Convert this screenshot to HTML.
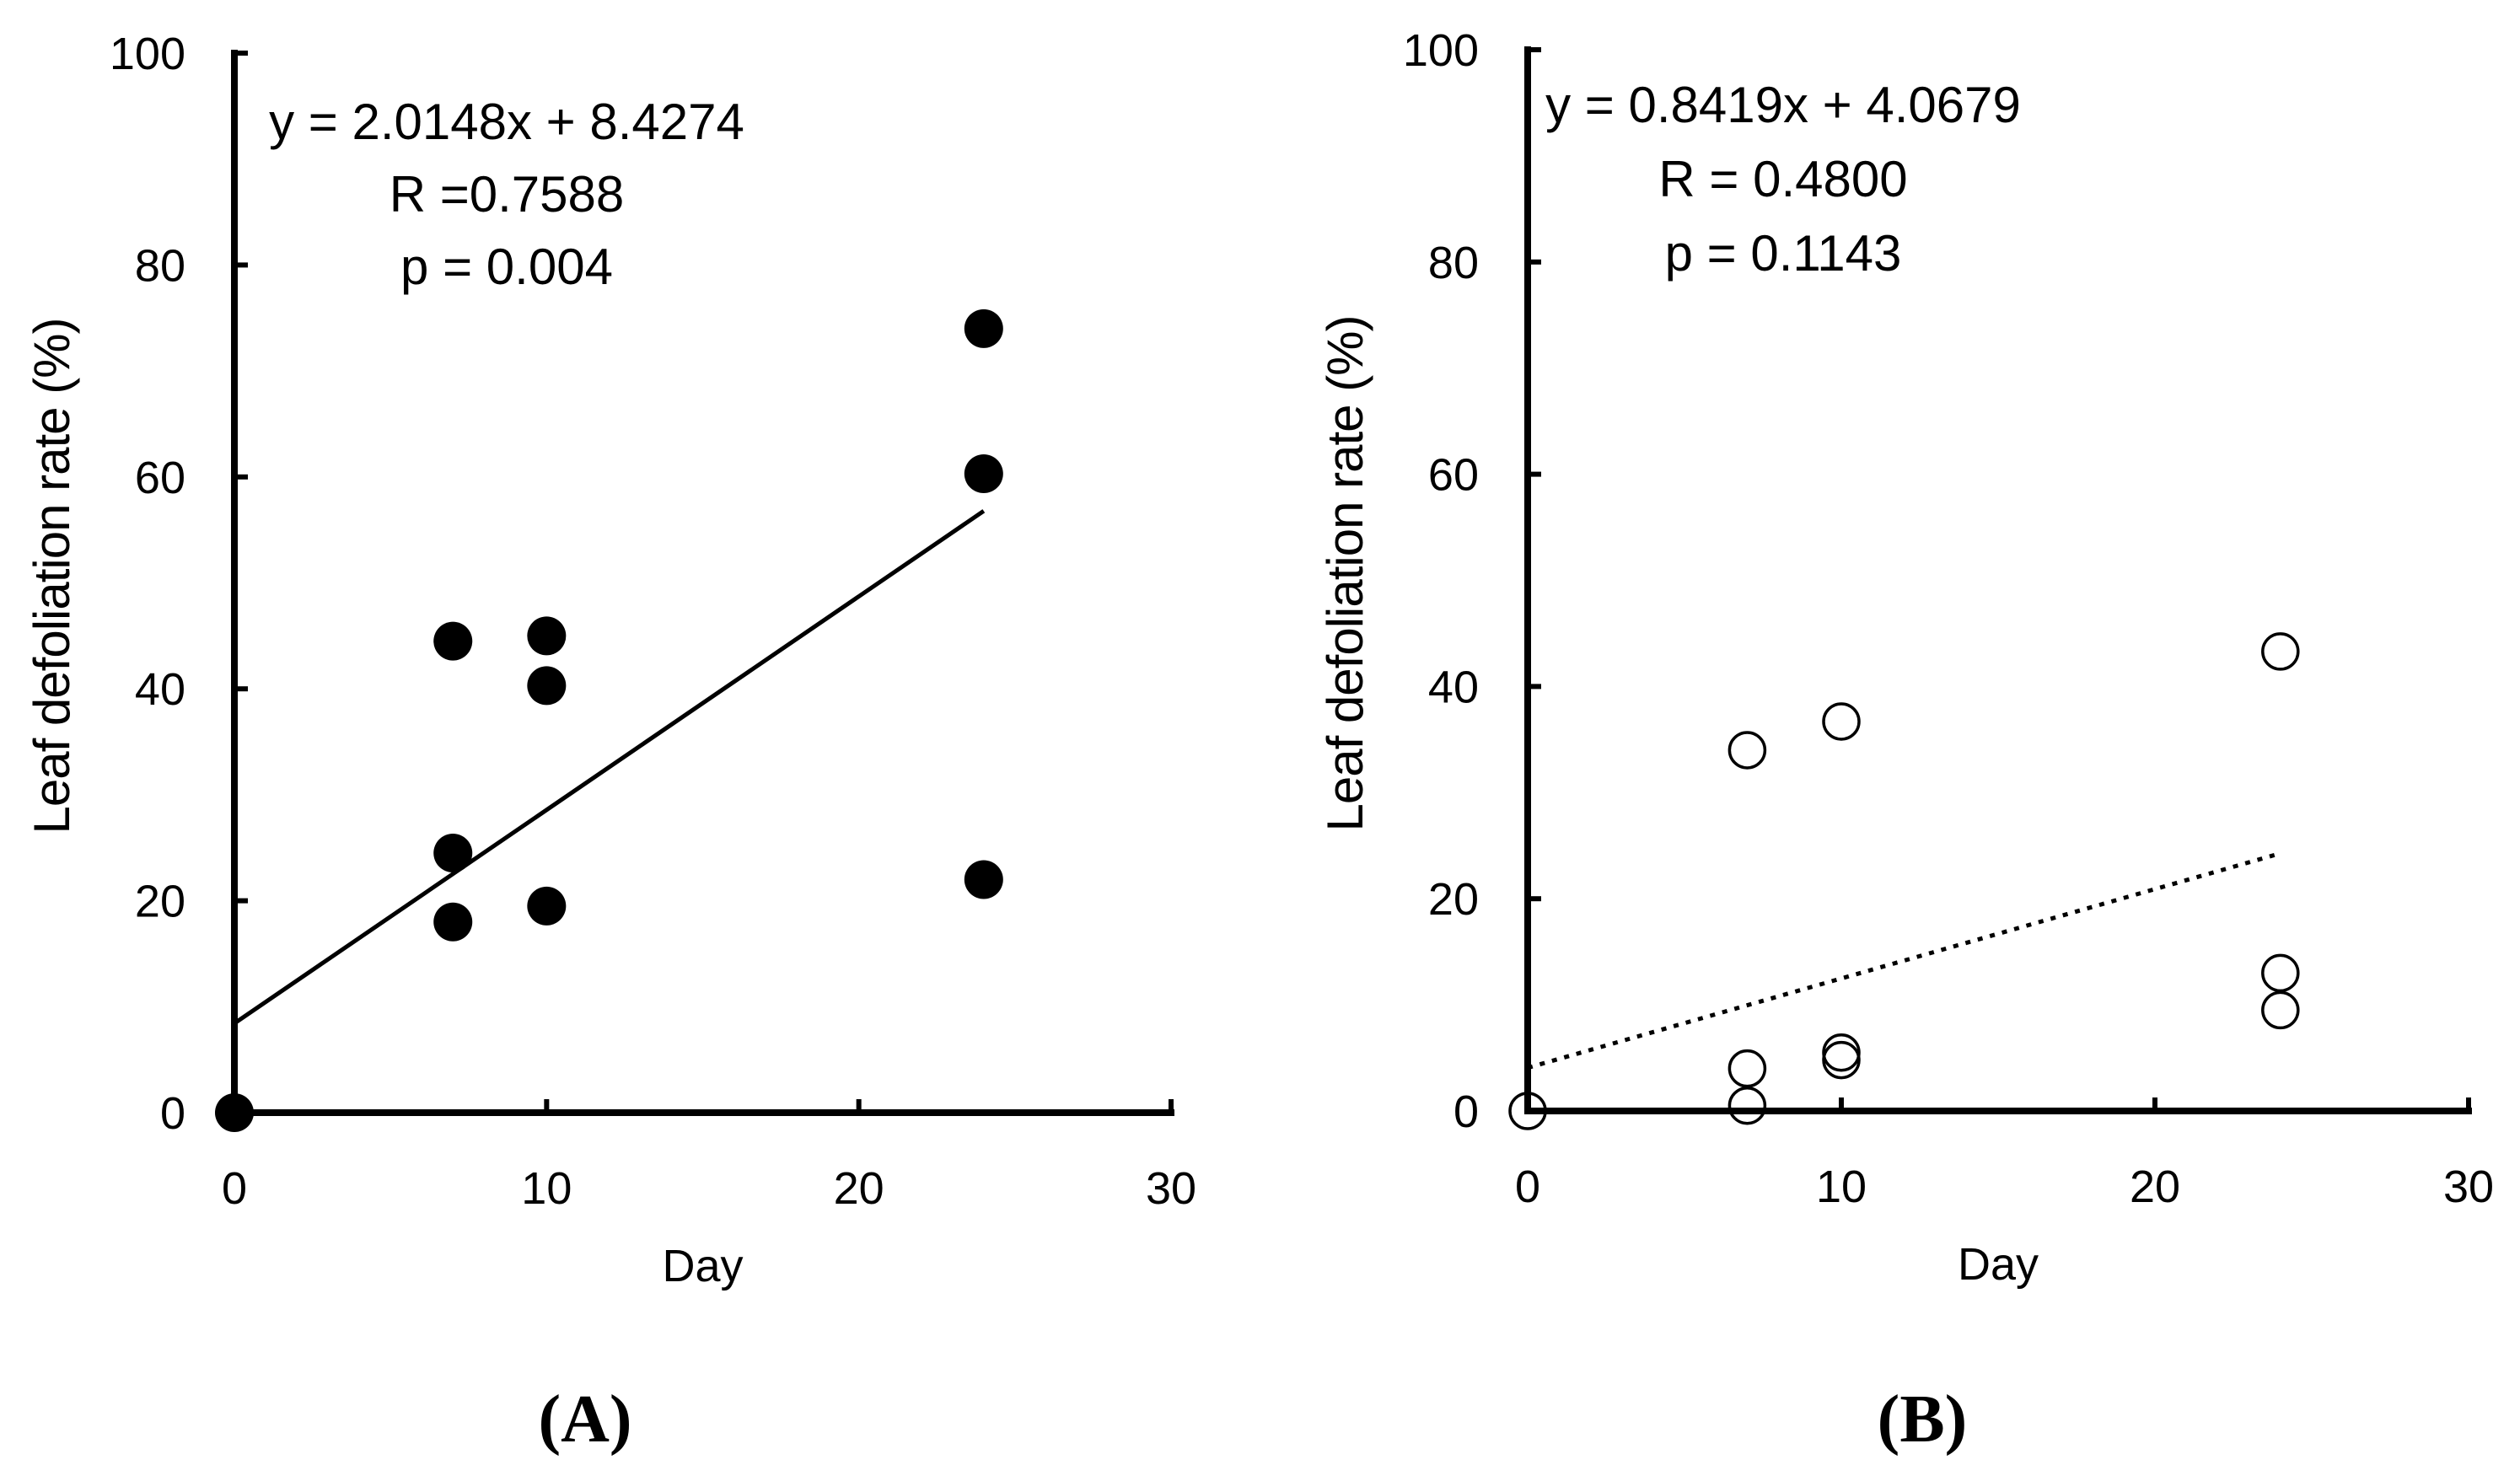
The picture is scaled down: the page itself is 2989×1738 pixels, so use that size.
<!DOCTYPE html>
<html><head><meta charset="utf-8"><style>
body{margin:0;background:#fff}
svg{display:block}
text{font-family:"Liberation Sans",sans-serif;fill:#000}
</style></head><body>
<svg id="chart" width="2989" height="1738" viewBox="0 0 2989 1738"></svg>
<script>
const xTicks=[0,10,20,30];
const yTicks=[0,20,40,60,80,100];
const daysA=[0,7,7,7,10,10,10,24,24,24];
const valsA=[0,44.5,24.5,18,45,40.3,19.5,74,60.3,22];
const daysB=[0,7,7,7,10,10,10,24,24,24];
const valsB=[0,34,4,0.5,36.7,5.5,4.8,43.3,13,9.5];
const slopeA=2.0148, interceptA=8.4274;
const slopeB=0.8419, interceptB=4.0679;
const annA=["y = 2.0148x + 8.4274","R =0.7588","p = 0.004"];
const annB=["y = 0.8419x + 4.0679","R = 0.4800","p = 0.1143"];
const NS="http://www.w3.org/2000/svg";
const svg=document.getElementById('chart');
function mk(tag,attrs,parent){const e=document.createElementNS(NS,tag);for(const k in attrs)e.setAttribute(k,attrs[k]);(parent||svg).appendChild(e);return e;}
function panel(cfg){
  const g=mk('g',{});
  
  
  const sx=v=>cfg.x0+(cfg.x30-cfg.x0)*v/30;
  const sy=v=>cfg.y0+(cfg.y100-cfg.y0)*v/100;
  const ax=mk('line',{x1:sx(0),y1:sy(100)-4,x2:sx(0),y2:sy(0)+4,stroke:'#000','stroke-width':8},g);
  
  const bx=mk('line',{x1:sx(0)-4,y1:sy(0),x2:sx(30)+4,y2:sy(0),stroke:'#000','stroke-width':8},g);
  
  yTicks.forEach(t=>{
    const l=mk('line',{x1:sx(0),y1:sy(t),x2:sx(0)+16,y2:sy(t),stroke:'#000','stroke-width':6},g);
    
    const tx=mk('text',{x:sx(0)-58,y:sy(t)+19,'text-anchor':'end','font-size':54},g);
    tx.textContent=t;
    
  });
  xTicks.forEach(t=>{
    const l=mk('line',{x1:sx(t),y1:sy(0),x2:sx(t),y2:sy(0)-16,stroke:'#000','stroke-width':6},g);
    
    const tx=mk('text',{x:sx(t),y:sy(0)+108,'text-anchor':'middle','font-size':54},g);
    tx.textContent=t;
    
  });
  const xt=mk('text',{x:(sx(0)+sx(30))/2,y:sy(0)+200,'text-anchor':'middle','font-size':54},g);
  xt.textContent='Day';
  
  const yt=mk('text',{x:0,y:0,'text-anchor':'middle','font-size':60,'letter-spacing':'-1',transform:`translate(${sx(0)-196},${sy(50)-8}) rotate(-90)`},g);
  yt.textContent='Leaf defoliation rate (%)';
  
  const tl=mk('line',{x1:sx(0),y1:sy(cfg.b),x2:sx(24),y2:sy(cfg.m*24+cfg.b),stroke:'#000','stroke-width':5,'stroke-dasharray':cfg.dash||'none'},g);
  
  cfg.xs.forEach((d,i)=>{
    const c=mk('circle',{cx:sx(d),cy:sy(cfg.ys[i]),r:cfg.open?21:23,fill:cfg.open?'none':'#000',stroke:'#000','stroke-width':cfg.open?3.5:0},g);
    
  });
  cfg.ann.forEach((s,i)=>{
    const tx=mk('text',{x:cfg.annX,y:cfg.annY+i*cfg.annDy,'text-anchor':'middle','font-size':60},g);
    tx.textContent=s;
    
  });
  const pl=mk('text',{x:cfg.labX,y:1710,'text-anchor':'middle','font-size':80,'font-weight':'bold',style:'font-family:"Liberation Serif",serif'},g);
  pl.textContent=cfg.label;
  
}
panel({name:'panel-a',x0:278,x30:1389,y0:1320,y100:63,xs:daysA,ys:valsA,m:slopeA,b:interceptA,open:false,ann:annA,annX:601,annY:165,annDy:86,labX:694,label:'(A)'});
panel({name:'panel-b',x0:1812,x30:2928,y0:1318,y100:59,xs:daysB,ys:valsB,m:slopeB,b:interceptB,open:true,dash:'6 9',ann:annB,annX:2115,annY:145,annDy:88,labX:2280,label:'(B)'});
</script>
</body></html>
